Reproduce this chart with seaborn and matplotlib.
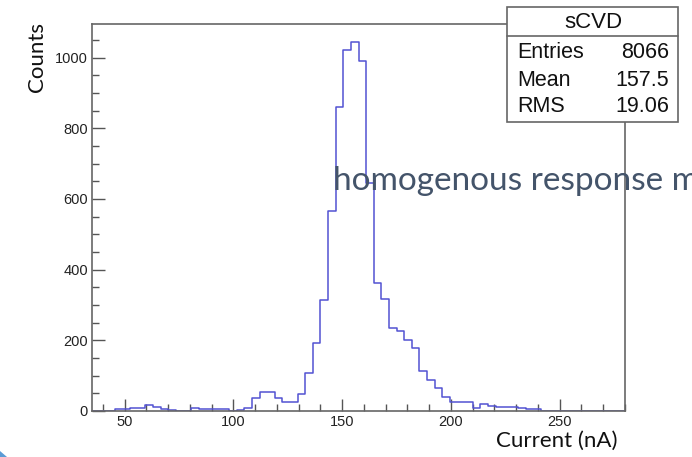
import numpy as np
import pandas as pd
import matplotlib
matplotlib.use("Agg")
import matplotlib.pyplot as plt
from matplotlib.patches import Rectangle, Polygon
from matplotlib.ticker import MultipleLocator
import seaborn as sns

# histogram binning (ROOT style: 70 bins from 35 to 280)
bin_lo = 35.0
bin_width = 3.5
counts = [0, 0, 0, 5, 5, 8, 8, 16, 11, 7,
          4, 1, 1, 8, 6, 5, 5, 5, 1, 2,
          9, 36, 55, 55, 36, 26, 26, 48, 108, 191,
          315, 565, 859, 1021, 1043, 991, 645, 362, 317, 234,
          225, 201, 178, 112, 88, 64, 41, 26, 26, 26,
          8, 20, 15, 12, 12, 12, 9, 6, 6, 1,
          1, 1, 1, 1, 0, 0, 1, 1, 1, 0]

stats_title = "sCVD"
stats_names = ["Entries", "Mean", "RMS"]
stats_values = ["8066", "157.5", "19.06"]

nbins = len(counts)
bin_hi = bin_lo + bin_width * nbins
df = pd.DataFrame({"current": bin_lo + bin_width * (np.arange(nbins) + 0.5),
                   "n": counts})

sns.set_theme(style="white")
plt.rcParams["font.family"] = ["Liberation Sans", "DejaVu Sans"]

W, H = 692, 457
fig = plt.figure(figsize=(W / 100, H / 100), dpi=100)
ax = fig.add_axes([92 / W, 1 - 411 / H, 533 / W, 387 / H])

sns.histplot(data=df, x="current", weights="n", bins=nbins,
             binrange=(bin_lo, bin_hi), element="step",
             fill=False, color="#5252d2", linewidth=1.1, ax=ax)

ax.set_xlim(35, 280)
ax.set_ylim(0, 1095)
ax.xaxis.set_major_locator(MultipleLocator(50))
ax.xaxis.set_minor_locator(MultipleLocator(10))
ax.yaxis.set_major_locator(MultipleLocator(200))
ax.yaxis.set_minor_locator(MultipleLocator(50))
ax.tick_params(which="both", direction="in", bottom=True, left=True,
               top=False, right=False, color="#555555", labelsize=10.5,
               labelcolor="#222222")
ax.tick_params(which="major", length=9, width=1.0)
ax.tick_params(which="minor", length=5, width=1.0)
ax.tick_params(axis="y", pad=3)
ax.tick_params(axis="x", pad=3)
for s in ax.spines.values():
    s.set_color("#666666")
    s.set_linewidth(1.2)

ax.set_ylabel("")
ax.set_xlabel("Current (nA)", fontsize=16, family=["Lato", "DejaVu Sans"],
              color="#111111", loc="right")
ax.xaxis.set_label_coords((617 - 92) / 533, (411 - 441) / 387)
ax.xaxis.label.set_va("center")
fig.text(37 / W, 1 - 22 / H, "Counts", rotation=90, ha="center", va="top",
         fontsize=16, family=["Lato", "DejaVu Sans"], color="#111111")

# stats box
bx0, bx1, by0, by1, bdiv = 507, 678, 7, 122, 36
fig.add_artist(Rectangle((bx0 / W, 1 - by1 / H), (bx1 - bx0) / W, (by1 - by0) / H,
                         transform=fig.transFigure, facecolor="white",
                         edgecolor="#666666", linewidth=1.2, zorder=5))
fig.add_artist(plt.Line2D([bx0 / W, bx1 / W], [1 - bdiv / H, 1 - bdiv / H],
                          transform=fig.transFigure, color="#666666",
                          linewidth=1.2, zorder=6))
fig.text(593 / W, 1 - 23 / H, stats_title, ha="center", va="center",
         fontsize=16, color="#111111", zorder=7)
for row_y, name, val in zip([52, 80, 107], stats_names, stats_values):
    fig.text(517 / W, 1 - row_y / H, name, ha="left", va="center",
             fontsize=15.5, color="#111111", zorder=7)
    fig.text(669 / W, 1 - row_y / H, val, ha="right", va="center",
             fontsize=15.5, color="#111111", zorder=7)

# slide overlay text
fig.text(333 / W, 1 - 181 / H, "homogenous response m", ha="left", va="center",
         fontsize=24, family=["Lato", "DejaVu Sans"], color="#44546A", zorder=8)

fig.add_artist(Polygon([(0, 0), (7 / W, 0), (0, 6 / H)], closed=True,
                       transform=fig.transFigure, facecolor="#5b9bd5",
                       edgecolor="none", zorder=8))

fig.savefig("out.png", dpi=100)
